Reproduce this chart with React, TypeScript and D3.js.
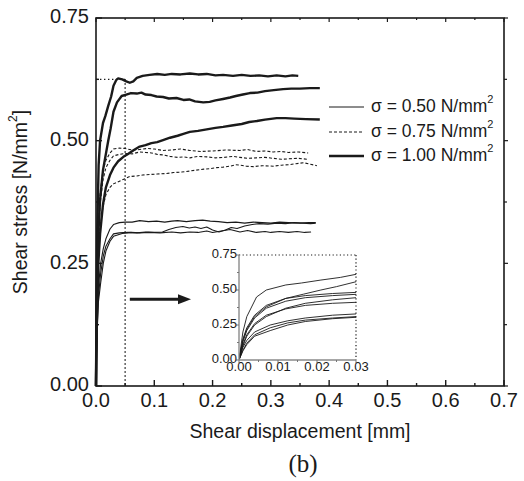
import React from 'react';
import * as d3 from 'd3';

type Pt = [number, number];

// sigma = 1.00 N/mm2 (thick)
const thickA: Pt[] = [[0,0],[0.001,0.2],[0.002,0.31],[0.0045,0.45],[0.007,0.5],[0.012,0.536],[0.016,0.55],[0.021,0.571],[0.026,0.59],[0.03,0.612],[0.035,0.624],[0.038,0.627],[0.045,0.625],[0.052,0.621],[0.058,0.618],[0.064,0.621],[0.07,0.628],[0.08,0.632],[0.092,0.634],[0.105,0.636],[0.118,0.634],[0.13,0.636],[0.145,0.635],[0.161,0.637],[0.175,0.635],[0.19,0.636],[0.205,0.633],[0.218,0.634],[0.235,0.632],[0.25,0.634],[0.265,0.632],[0.28,0.633],[0.295,0.631],[0.31,0.633],[0.325,0.631],[0.337,0.633],[0.347,0.632]];
const thickB: Pt[] = [[0,0],[0.001,0.14],[0.002,0.22],[0.004,0.31],[0.007,0.38],[0.012,0.44],[0.0165,0.47],[0.021,0.5],[0.025,0.524],[0.03,0.559],[0.036,0.578],[0.044,0.591],[0.052,0.594],[0.06,0.597],[0.07,0.596],[0.078,0.598],[0.085,0.594],[0.095,0.593],[0.104,0.59],[0.115,0.589],[0.125,0.586],[0.138,0.587],[0.15,0.583],[0.16,0.584],[0.17,0.58],[0.184,0.578],[0.195,0.579],[0.205,0.582],[0.218,0.585],[0.23,0.588],[0.24,0.591],[0.252,0.594],[0.264,0.597],[0.277,0.598],[0.29,0.601],[0.305,0.603],[0.321,0.605],[0.335,0.606],[0.35,0.606],[0.367,0.607],[0.384,0.607]];
const thickC: Pt[] = [[0,0],[0.001,0.1],[0.002,0.17],[0.004,0.25],[0.007,0.31],[0.012,0.37],[0.017,0.405],[0.024,0.43],[0.03,0.445],[0.038,0.458],[0.047,0.467],[0.055,0.473],[0.065,0.481],[0.075,0.488],[0.085,0.491],[0.095,0.495],[0.105,0.497],[0.115,0.501],[0.127,0.506],[0.14,0.51],[0.15,0.514],[0.161,0.518],[0.175,0.52],[0.19,0.523],[0.205,0.526],[0.218,0.528],[0.233,0.531],[0.25,0.534],[0.263,0.538],[0.276,0.54],[0.29,0.543],[0.31,0.546],[0.325,0.546],[0.34,0.545],[0.36,0.544],[0.384,0.543]];
// sigma = 0.75 N/mm2 (dashed)
const dashD1: Pt[] = [[0,0],[0.001,0.15],[0.002,0.23],[0.004,0.32],[0.007,0.39],[0.012,0.44],[0.017,0.46],[0.024,0.475],[0.03,0.483],[0.04,0.485],[0.05,0.484],[0.062,0.481],[0.075,0.482],[0.088,0.484],[0.1,0.483],[0.115,0.48],[0.13,0.481],[0.145,0.483],[0.161,0.48],[0.18,0.478],[0.2,0.479],[0.222,0.481],[0.247,0.48],[0.26,0.482],[0.275,0.478],[0.29,0.479],[0.304,0.477],[0.318,0.478],[0.33,0.476],[0.347,0.477],[0.364,0.475]];
const dashD2: Pt[] = [[0,0],[0.001,0.13],[0.002,0.21],[0.004,0.3],[0.007,0.37],[0.012,0.42],[0.017,0.445],[0.024,0.46],[0.03,0.469],[0.04,0.472],[0.05,0.474],[0.062,0.473],[0.075,0.477],[0.085,0.476],[0.095,0.475],[0.105,0.472],[0.115,0.471],[0.127,0.468],[0.14,0.466],[0.15,0.467],[0.161,0.465],[0.175,0.468],[0.19,0.467],[0.205,0.465],[0.22,0.466],[0.235,0.468],[0.247,0.466],[0.26,0.464],[0.275,0.465],[0.29,0.466],[0.304,0.464],[0.318,0.462],[0.33,0.463],[0.347,0.464],[0.364,0.462]];
const dashD3: Pt[] = [[0,0],[0.001,0.11],[0.002,0.18],[0.004,0.26],[0.007,0.32],[0.012,0.365],[0.017,0.39],[0.024,0.405],[0.03,0.412],[0.045,0.42],[0.058,0.427],[0.07,0.428],[0.08,0.43],[0.092,0.431],[0.105,0.432],[0.12,0.433],[0.133,0.435],[0.147,0.436],[0.16,0.438],[0.172,0.44],[0.185,0.442],[0.196,0.443],[0.207,0.445],[0.218,0.446],[0.23,0.448],[0.24,0.451],[0.247,0.45],[0.258,0.448],[0.27,0.447],[0.285,0.449],[0.304,0.448],[0.318,0.45],[0.33,0.451],[0.343,0.453],[0.356,0.455],[0.368,0.452],[0.379,0.449]];
// sigma = 0.50 N/mm2 (thin)
const thinT1: Pt[] = [[0,0],[0.001,0.09],[0.002,0.14],[0.004,0.2],[0.008,0.25],[0.0125,0.28],[0.017,0.3],[0.024,0.32],[0.03,0.329],[0.04,0.333],[0.05,0.334],[0.062,0.334],[0.075,0.337],[0.09,0.335],[0.104,0.336],[0.118,0.334],[0.13,0.336],[0.14,0.337],[0.155,0.335],[0.17,0.337],[0.183,0.338],[0.196,0.336],[0.21,0.335],[0.225,0.333],[0.24,0.334],[0.255,0.332],[0.27,0.334],[0.285,0.333],[0.3,0.332],[0.315,0.334],[0.33,0.333],[0.35,0.332],[0.365,0.333],[0.377,0.333]];
const thinT2: Pt[] = [[0,0],[0.001,0.07],[0.002,0.12],[0.004,0.18],[0.008,0.23],[0.0125,0.265],[0.017,0.285],[0.024,0.3],[0.03,0.31],[0.04,0.312],[0.055,0.313],[0.07,0.312],[0.085,0.314],[0.1,0.313],[0.114,0.314],[0.125,0.319],[0.137,0.323],[0.149,0.325],[0.16,0.322],[0.17,0.324],[0.18,0.321],[0.19,0.324],[0.2,0.318],[0.211,0.314],[0.222,0.318],[0.232,0.323],[0.242,0.321],[0.255,0.326],[0.268,0.329],[0.28,0.331],[0.295,0.33],[0.31,0.332],[0.325,0.331],[0.34,0.333],[0.355,0.332],[0.368,0.331],[0.377,0.332]];
const thinT3: Pt[] = [[0,0],[0.001,0.065],[0.002,0.11],[0.004,0.17],[0.008,0.21],[0.0125,0.25],[0.017,0.275],[0.024,0.295],[0.03,0.305],[0.045,0.311],[0.06,0.313],[0.075,0.312],[0.09,0.313],[0.11,0.312],[0.13,0.314],[0.145,0.312],[0.161,0.314],[0.175,0.313],[0.19,0.316],[0.2,0.313],[0.215,0.316],[0.23,0.319],[0.247,0.314],[0.26,0.317],[0.275,0.313],[0.29,0.315],[0.3,0.313],[0.315,0.315],[0.33,0.313],[0.345,0.315],[0.358,0.313],[0.369,0.314]];

const thickSeries = [thickA, thickB, thickC];
const dashSeries = [dashD1, dashD2, dashD3];
const thinSeries = [thinT1, thinT2, thinT3];

const xTicks = [0, 0.1, 0.2, 0.3, 0.4, 0.5, 0.6, 0.7];
const yTicks = [0, 0.25, 0.5, 0.75];
const legendLabels = ['0.50', '0.75', '1.00'];
const insetXTicks = [0, 0.01, 0.02, 0.03];
const insetYTicks = [0, 0.25, 0.5, 0.75];
const zoomBox = { x: 0.05, y: 0.625 };
const arrowSpan = { x0: 0.058, x1: 0.163, y: 0.177 };

const FONT = '"Liberation Sans", Arial, Helvetica, sans-serif';
const INK = '#1a1a1a';

export default function App() {
  const W = 524, H = 481;
  const L = 96, R = 504, T = 18, B = 386;
  const x = d3.scaleLinear().domain([0, 0.7]).range([L, R]);
  const y = d3.scaleLinear().domain([0, 0.75]).range([B, T]);
  const line = d3.line<Pt>().x(d => x(d[0])).y(d => y(d[1]));

  const iL = 239, iR = 356, iT = 255, iB = 360;
  const xi = d3.scaleLinear().domain([0, 0.03]).range([iL, iR]);
  const yi = d3.scaleLinear().domain([0, 0.75]).range([iB, iT]);
  const lineI = d3.line<Pt>().x(d => xi(d[0])).y(d => yi(d[1]));

  const xMinor = d3.range(0, 0.7001, 0.05);
  const yMinor = d3.range(0, 0.7501, 0.125);
  const ixMinor = d3.range(0, 0.03001, 0.005);
  const iyMinor = d3.range(0, 0.7501, 0.125);

  const legendY = [107, 132, 156];
  const legendStyles = [
    { w: 1, dash: undefined as string | undefined },
    { w: 1, dash: '3,2' },
    { w: 2.4, dash: undefined as string | undefined },
  ];

  const ay = y(arrowSpan.y);
  const ax0 = x(arrowSpan.x0), ax1 = x(arrowSpan.x1);

  return (
    <svg width={W} height={H} style={{ position: 'absolute', left: 0, top: 0, background: '#fff' }} fontFamily={FONT}>
      <rect x={0} y={0} width={W} height={H} fill="#fff" />
      <defs>
        <clipPath id="insetClip">
          <rect x={iL} y={iT - 2} width={iR - iL + 1} height={iB - iT + 2} />
        </clipPath>
      </defs>

      {/* zoom window dotted */}
      <line x1={x(0)} x2={x(zoomBox.x)} y1={y(zoomBox.y)} y2={y(zoomBox.y)} stroke={INK} strokeWidth={1.4} strokeDasharray="1.4,2.6" />
      <line x1={x(zoomBox.x)} x2={x(zoomBox.x)} y1={y(zoomBox.y)} y2={y(0)} stroke={INK} strokeWidth={1.4} strokeDasharray="1.4,2.6" />

      {/* main curves */}
      {thinSeries.map((s, i) => (
        <path key={'t' + i} d={line(s) || ''} fill="none" stroke={INK} strokeWidth={1.1} strokeLinejoin="round" />
      ))}
      {dashSeries.map((s, i) => (
        <path key={'d' + i} d={line(s) || ''} fill="none" stroke={INK} strokeWidth={1.1} strokeDasharray="3,2" />
      ))}
      {thickSeries.map((s, i) => (
        <path key={'k' + i} d={line(s) || ''} fill="none" stroke={INK} strokeWidth={2.4} strokeLinejoin="round" />
      ))}

      {/* frame */}
      <rect x={L} y={T} width={R - L} height={B - T} fill="none" stroke={INK} strokeWidth={1.6} />
      {xMinor.map((v, i) => {
        const major = i % 2 === 0;
        const len = major ? 6 : 3;
        return (
          <g key={'xt' + i}>
            <line x1={x(v)} x2={x(v)} y1={B} y2={B - len} stroke={INK} strokeWidth={1.4} />
            <line x1={x(v)} x2={x(v)} y1={T} y2={T + (major ? 4 : 2)} stroke={INK} strokeWidth={1.2} />
          </g>
        );
      })}
      {yMinor.map((v, i) => {
        const major = i % 2 === 0;
        const len = major ? 6 : 3;
        return (
          <g key={'yt' + i}>
            <line x1={L} x2={L + len} y1={y(v)} y2={y(v)} stroke={INK} strokeWidth={1.4} />
            <line x1={R} x2={R + (major ? 4 : 3)} y1={y(v)} y2={y(v)} stroke={INK} strokeWidth={1.2} />
          </g>
        );
      })}
      {xTicks.map(v => (
        <text key={'xl' + v} x={x(v)} y={402} fontSize={20} textAnchor="middle" dominantBaseline="middle" fill={INK}>{v.toFixed(1)}</text>
      ))}
      {yTicks.map(v => (
        <text key={'yl' + v} x={89} y={y(v)} fontSize={20} textAnchor="end" dominantBaseline="middle" fill={INK}>{v.toFixed(2)}</text>
      ))}

      {/* axis titles */}
      <text x={(L + R) / 2} y={433} fontSize={19.5} textAnchor="middle" dominantBaseline="middle" fill={INK}>Shear displacement [mm]</text>
      <text transform={`translate(22,${(T + B) / 2}) rotate(-90)`} fontSize={19.5} textAnchor="middle" dominantBaseline="middle" fill={INK}>
        Shear stress [N/mm<tspan fontSize={12} dy={-8}>2</tspan><tspan dy={8}>]</tspan>
      </text>
      <text x={303} y={466} fontSize={25} textAnchor="middle" dominantBaseline="middle" fontFamily='"Liberation Serif", "Times New Roman", serif' fill={INK}>(b)</text>

      {/* legend */}
      {legendLabels.map((lab, i) => (
        <g key={'lg' + i}>
          <line x1={329} x2={364} y1={legendY[i]} y2={legendY[i]} stroke={INK} strokeWidth={legendStyles[i].w} strokeDasharray={legendStyles[i].dash} />
          <text x={371} y={legendY[i]} fontSize={17.5} dominantBaseline="middle" fill={INK}>
            σ = {lab} N/mm<tspan fontSize={11} dy={-7}>2</tspan>
          </text>
        </g>
      ))}

      {/* arrow */}
      <line x1={ax0} x2={ax1 - 10} y1={ay} y2={ay} stroke={INK} strokeWidth={3} />
      <path d={`M${ax1},${ay} L${ax1 - 13},${ay - 5} L${ax1 - 13},${ay + 5} Z`} fill={INK} />

      {/* inset */}
      <g clipPath="url(#insetClip)">
        {[...thickSeries, ...dashSeries, ...thinSeries].map((s, i) => (
          <path key={'i' + i} d={lineI(s.filter(p => p[0] <= 0.03)) || ''} fill="none" stroke={INK} strokeWidth={0.9} />
        ))}
      </g>
      <line x1={iL} x2={iR} y1={iT} y2={iT} stroke={INK} strokeWidth={1.2} strokeDasharray="1.2,2.4" />
      <line x1={iR} x2={iR} y1={iT} y2={iB} stroke={INK} strokeWidth={1.2} strokeDasharray="1.2,2.4" />
      <line x1={iL} x2={iL} y1={iT} y2={iB} stroke="#8a8a8a" strokeWidth={1.4} />
      <line x1={iL} x2={iR} y1={iB} y2={iB} stroke="#8a8a8a" strokeWidth={1.4} />
      {ixMinor.map((v, i) => (
        <line key={'ixt' + i} x1={xi(v)} x2={xi(v)} y1={iB} y2={iB + (i % 2 === 0 ? 3 : 2)} stroke="#777" strokeWidth={1} />
      ))}
      {iyMinor.map((v, i) => (
        <line key={'iyt' + i} x1={iL} x2={iL - (i % 2 === 0 ? 3 : 2)} y1={yi(v)} y2={yi(v)} stroke="#777" strokeWidth={1} />
      ))}
      {insetXTicks.map(v => (
        <text key={'ixl' + v} x={xi(v)} y={368} fontSize={13} textAnchor="middle" dominantBaseline="middle" fill={INK}>{v.toFixed(2)}</text>
      ))}
      {insetYTicks.map(v => (
        <text key={'iyl' + v} x={237} y={yi(v)} fontSize={13} textAnchor="end" dominantBaseline="middle" fill={INK}>{v.toFixed(2)}</text>
      ))}
    </svg>
  );
}
